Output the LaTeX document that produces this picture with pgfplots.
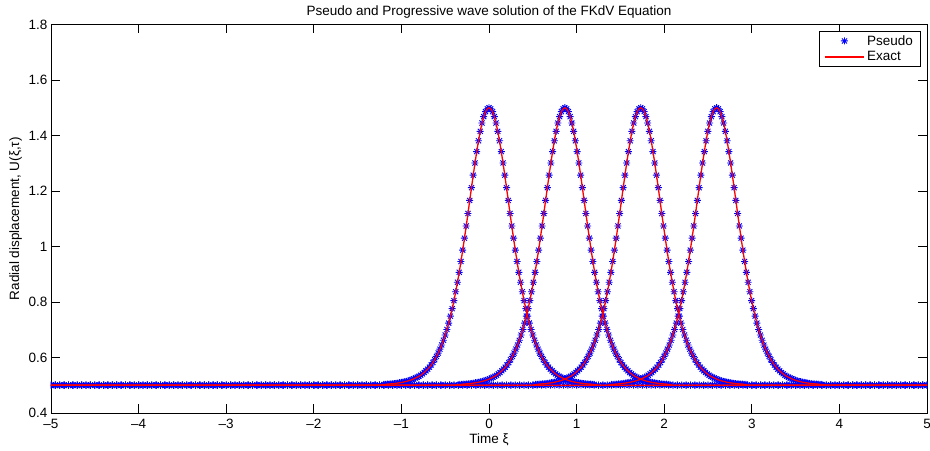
\documentclass[border=0pt]{standalone}
\usepackage{fontspec}
\setmainfont{Liberation Sans}
\usepackage{pgfplots}
\usepackage{pgfplotstable}
\pgfplotsset{compat=1.18}
\pgfdeclareplotmark{mstar}{%
  \pgfpathmoveto{\pgfqpoint{-\pgfplotmarksize}{0pt}}\pgfpathlineto{\pgfqpoint{\pgfplotmarksize}{0pt}}%
  \pgfpathmoveto{\pgfqpoint{0pt}{-\pgfplotmarksize}}\pgfpathlineto{\pgfqpoint{0pt}{\pgfplotmarksize}}%
  \pgfpathmoveto{\pgfqpoint{-0.72\pgfplotmarksize}{-0.72\pgfplotmarksize}}\pgfpathlineto{\pgfqpoint{0.72\pgfplotmarksize}{0.72\pgfplotmarksize}}%
  \pgfpathmoveto{\pgfqpoint{-0.72\pgfplotmarksize}{0.72\pgfplotmarksize}}\pgfpathlineto{\pgfqpoint{0.72\pgfplotmarksize}{-0.72\pgfplotmarksize}}%
  \pgfusepathqstroke}
% pulse centred at 0
\pgfplotstableread[row sep=\\]{
x y\\
-5 0.5\\-4.95 0.5\\-4.9 0.5\\-4.85 0.5\\-4.8 0.5\\-4.75 0.5\\-4.7 0.5\\-4.65 0.5\\-4.6 0.5\\-4.55 0.5\\
-4.5 0.5\\-4.45 0.5\\-4.4 0.5\\-4.35 0.5\\-4.3 0.5\\-4.25 0.5\\-4.2 0.5\\-4.15 0.5\\-4.1 0.5\\-4.05 0.5\\
-4 0.5\\-3.95 0.5\\-3.9 0.5\\-3.85 0.5\\-3.8 0.5\\-3.75 0.5\\-3.7 0.5\\-3.65 0.5\\-3.6 0.5\\-3.55 0.5\\
-3.5 0.5\\-3.45 0.5\\-3.4 0.5\\-3.35 0.5\\-3.3 0.5\\-3.25 0.5\\-3.2 0.5\\-3.15 0.5\\-3.1 0.5\\-3.05 0.5\\
-3 0.5\\-2.95 0.5\\-2.9 0.5\\-2.85 0.5\\-2.8 0.5\\-2.75 0.5\\-2.7 0.5\\-2.65 0.5\\-2.6 0.5\\-2.55 0.5\\
-2.5 0.5\\-2.45 0.5\\-2.4 0.5\\-2.35 0.5\\-2.3 0.5\\-2.25 0.5\\-2.2 0.5\\-2.15 0.5\\-2.1 0.5\\-2.05 0.5\\
-2 0.5\\-1.95 0.5\\-1.9 0.5\\-1.85 0.5\\-1.8 0.5\\-1.75 0.5\\-1.7 0.5\\-1.65 0.5\\-1.6 0.5\\-1.55 0.5\\
-1.5 0.5\\-1.45 0.5\\-1.4 0.5\\-1.35 0.5\\-1.3 0.5\\-1.25 0.5\\
-1.2 0.503\\-1.18 0.503\\-1.16 0.504\\-1.14 0.504\\-1.12 0.505\\-1.1 0.505\\-1.08 0.506\\-1.06 0.507\\-1.04 0.508\\-1.02 0.509\\
-1 0.510\\-0.98 0.511\\-0.96 0.513\\-0.94 0.514\\-0.92 0.516\\-0.9 0.518\\-0.88 0.520\\-0.86 0.523\\-0.84 0.526\\-0.82 0.529\\
-0.8 0.532\\-0.78 0.536\\-0.76 0.541\\-0.74 0.546\\-0.72 0.552\\-0.7 0.558\\-0.68 0.565\\-0.66 0.573\\-0.64 0.582\\-0.62 0.592\\
-0.6 0.604\\-0.58 0.616\\-0.56 0.630\\-0.54 0.645\\-0.52 0.662\\-0.5 0.681\\-0.48 0.701\\-0.46 0.724\\-0.44 0.749\\-0.42 0.776\\
-0.4 0.805\\-0.38 0.837\\-0.36 0.871\\-0.34 0.907\\-0.32 0.946\\-0.3 0.987\\-0.28 1.030\\-0.26 1.074\\-0.24 1.119\\-0.22 1.166\\
-0.2 1.212\\-0.18 1.257\\-0.16 1.301\\-0.14 1.342\\-0.12 1.381\\-0.1 1.415\\-0.08 1.445\\-0.06 1.468\\-0.04 1.486\\-0.02 1.496\\
0 1.500\\
0.02 1.496\\0.04 1.486\\0.06 1.468\\0.08 1.445\\0.1 1.415\\0.12 1.381\\0.14 1.342\\0.16 1.301\\0.18 1.257\\0.2 1.212\\
0.22 1.166\\0.24 1.119\\0.26 1.074\\0.28 1.030\\0.3 0.987\\0.32 0.946\\0.34 0.907\\0.36 0.871\\0.38 0.837\\0.4 0.805\\
0.42 0.776\\0.44 0.749\\0.46 0.724\\0.48 0.701\\0.5 0.681\\0.52 0.662\\0.54 0.645\\0.56 0.630\\0.58 0.616\\0.6 0.604\\
0.62 0.592\\0.64 0.582\\0.66 0.573\\0.68 0.565\\0.7 0.558\\0.72 0.552\\0.74 0.546\\0.76 0.541\\0.78 0.536\\0.8 0.532\\
0.82 0.529\\0.84 0.526\\0.86 0.523\\0.88 0.520\\0.9 0.518\\0.92 0.516\\0.94 0.514\\0.96 0.513\\0.98 0.511\\1 0.510\\
1.02 0.509\\1.04 0.508\\1.06 0.507\\1.08 0.506\\1.1 0.505\\1.12 0.505\\1.14 0.504\\1.16 0.504\\1.18 0.503\\1.2 0.503\\
1.25 0.5\\1.3 0.5\\1.35 0.5\\1.4 0.5\\1.45 0.5\\
1.5 0.5\\1.55 0.5\\1.6 0.5\\1.65 0.5\\1.7 0.5\\1.75 0.5\\1.8 0.5\\1.85 0.5\\1.9 0.5\\1.95 0.5\\
2 0.5\\2.05 0.5\\2.1 0.5\\2.15 0.5\\2.2 0.5\\2.25 0.5\\2.3 0.5\\2.35 0.5\\2.4 0.5\\2.45 0.5\\
2.5 0.5\\2.55 0.5\\2.6 0.5\\2.65 0.5\\2.7 0.5\\2.75 0.5\\2.8 0.5\\2.85 0.5\\2.9 0.5\\2.95 0.5\\
3 0.5\\3.05 0.5\\3.1 0.5\\3.15 0.5\\3.2 0.5\\3.25 0.5\\3.3 0.5\\3.35 0.5\\3.4 0.5\\3.45 0.5\\
3.5 0.5\\3.55 0.5\\3.6 0.5\\3.65 0.5\\3.7 0.5\\3.75 0.5\\3.8 0.5\\3.85 0.5\\3.9 0.5\\3.95 0.5\\
4 0.5\\4.05 0.5\\4.1 0.5\\4.15 0.5\\4.2 0.5\\4.25 0.5\\4.3 0.5\\4.35 0.5\\4.4 0.5\\4.45 0.5\\
4.5 0.5\\4.55 0.5\\4.6 0.5\\4.65 0.5\\4.7 0.5\\4.75 0.5\\4.8 0.5\\4.85 0.5\\4.9 0.5\\4.95 0.5\\5 0.5\\
}\waveA
% pulse centred at 0.866
\pgfplotstableread[row sep=\\]{
x y\\
-5 0.5\\-4.95 0.5\\-4.9 0.5\\-4.85 0.5\\-4.8 0.5\\-4.75 0.5\\-4.7 0.5\\-4.65 0.5\\-4.6 0.5\\-4.55 0.5\\
-4.5 0.5\\-4.45 0.5\\-4.4 0.5\\-4.35 0.5\\-4.3 0.5\\-4.25 0.5\\-4.2 0.5\\-4.15 0.5\\-4.1 0.5\\-4.05 0.5\\
-4 0.5\\-3.95 0.5\\-3.9 0.5\\-3.85 0.5\\-3.8 0.5\\-3.75 0.5\\-3.7 0.5\\-3.65 0.5\\-3.6 0.5\\-3.55 0.5\\
-3.5 0.5\\-3.45 0.5\\-3.4 0.5\\-3.35 0.5\\-3.3 0.5\\-3.25 0.5\\-3.2 0.5\\-3.15 0.5\\-3.1 0.5\\-3.05 0.5\\
-3 0.5\\-2.95 0.5\\-2.9 0.5\\-2.85 0.5\\-2.8 0.5\\-2.75 0.5\\-2.7 0.5\\-2.65 0.5\\-2.6 0.5\\-2.55 0.5\\
-2.5 0.5\\-2.45 0.5\\-2.4 0.5\\-2.35 0.5\\-2.3 0.5\\-2.25 0.5\\-2.2 0.5\\-2.15 0.5\\-2.1 0.5\\-2.05 0.5\\
-2 0.5\\-1.95 0.5\\-1.9 0.5\\-1.85 0.5\\-1.8 0.5\\-1.75 0.5\\-1.7 0.5\\-1.65 0.5\\-1.6 0.5\\-1.55 0.5\\
-1.5 0.5\\-1.45 0.5\\-1.4 0.5\\-1.35 0.5\\-1.3 0.5\\-1.25 0.5\\-1.2 0.5\\-1.15 0.5\\-1.1 0.5\\-1.05 0.5\\
-1 0.5\\-0.95 0.5\\-0.9 0.5\\-0.85 0.5\\-0.8 0.5\\-0.75 0.5\\-0.7 0.5\\-0.65 0.5\\-0.6 0.5\\-0.55 0.5\\
-0.5 0.5\\-0.45 0.5\\-0.4 0.5\\
-0.334 0.503\\-0.314 0.503\\-0.294 0.504\\-0.274 0.504\\-0.254 0.505\\-0.234 0.505\\-0.214 0.506\\-0.194 0.507\\-0.174 0.508\\-0.154 0.509\\
-0.134 0.510\\-0.114 0.511\\-0.094 0.513\\-0.074 0.514\\-0.054 0.516\\-0.034 0.518\\-0.014 0.520\\0.006 0.523\\0.026 0.526\\0.046 0.529\\
0.066 0.532\\0.086 0.536\\0.106 0.541\\0.126 0.546\\0.146 0.552\\0.166 0.558\\0.186 0.565\\0.206 0.573\\0.226 0.582\\0.246 0.592\\
0.266 0.604\\0.286 0.616\\0.306 0.630\\0.326 0.645\\0.346 0.662\\0.366 0.681\\0.386 0.701\\0.406 0.724\\0.426 0.749\\0.446 0.776\\
0.466 0.805\\0.486 0.837\\0.506 0.871\\0.526 0.907\\0.546 0.946\\0.566 0.987\\0.586 1.030\\0.606 1.074\\0.626 1.119\\0.646 1.166\\
0.666 1.212\\0.686 1.257\\0.706 1.301\\0.726 1.342\\0.746 1.381\\0.766 1.415\\0.786 1.445\\0.806 1.468\\0.826 1.486\\0.846 1.496\\
0.866 1.500\\
0.886 1.496\\0.906 1.486\\0.926 1.468\\0.946 1.445\\0.966 1.415\\0.986 1.381\\1.006 1.342\\1.026 1.301\\1.046 1.257\\1.066 1.212\\
1.086 1.166\\1.106 1.119\\1.126 1.074\\1.146 1.030\\1.166 0.987\\1.186 0.946\\1.206 0.907\\1.226 0.871\\1.246 0.837\\1.266 0.805\\
1.286 0.776\\1.306 0.749\\1.326 0.724\\1.346 0.701\\1.366 0.681\\1.386 0.662\\1.406 0.645\\1.426 0.630\\1.446 0.616\\1.466 0.604\\
1.486 0.592\\1.506 0.582\\1.526 0.573\\1.546 0.565\\1.566 0.558\\1.586 0.552\\1.606 0.546\\1.626 0.541\\1.646 0.536\\1.666 0.532\\
1.686 0.529\\1.706 0.526\\1.726 0.523\\1.746 0.520\\1.766 0.518\\1.786 0.516\\1.806 0.514\\1.826 0.513\\1.846 0.511\\1.866 0.510\\
1.886 0.509\\1.906 0.508\\1.926 0.507\\1.946 0.506\\1.966 0.505\\1.986 0.505\\2.006 0.504\\2.026 0.504\\2.046 0.503\\2.066 0.503\\
2.1 0.5\\2.15 0.5\\2.2 0.5\\2.25 0.5\\2.3 0.5\\2.35 0.5\\2.4 0.5\\2.45 0.5\\
2.5 0.5\\2.55 0.5\\2.6 0.5\\2.65 0.5\\2.7 0.5\\2.75 0.5\\2.8 0.5\\2.85 0.5\\2.9 0.5\\2.95 0.5\\
3 0.5\\3.05 0.5\\3.1 0.5\\3.15 0.5\\3.2 0.5\\3.25 0.5\\3.3 0.5\\3.35 0.5\\3.4 0.5\\3.45 0.5\\
3.5 0.5\\3.55 0.5\\3.6 0.5\\3.65 0.5\\3.7 0.5\\3.75 0.5\\3.8 0.5\\3.85 0.5\\3.9 0.5\\3.95 0.5\\
4 0.5\\4.05 0.5\\4.1 0.5\\4.15 0.5\\4.2 0.5\\4.25 0.5\\4.3 0.5\\4.35 0.5\\4.4 0.5\\4.45 0.5\\
4.5 0.5\\4.55 0.5\\4.6 0.5\\4.65 0.5\\4.7 0.5\\4.75 0.5\\4.8 0.5\\4.85 0.5\\4.9 0.5\\4.95 0.5\\5 0.5\\
}\waveB
% pulse centred at 1.732
\pgfplotstableread[row sep=\\]{
x y\\
-5 0.5\\-4.95 0.5\\-4.9 0.5\\-4.85 0.5\\-4.8 0.5\\-4.75 0.5\\-4.7 0.5\\-4.65 0.5\\-4.6 0.5\\-4.55 0.5\\
-4.5 0.5\\-4.45 0.5\\-4.4 0.5\\-4.35 0.5\\-4.3 0.5\\-4.25 0.5\\-4.2 0.5\\-4.15 0.5\\-4.1 0.5\\-4.05 0.5\\
-4 0.5\\-3.95 0.5\\-3.9 0.5\\-3.85 0.5\\-3.8 0.5\\-3.75 0.5\\-3.7 0.5\\-3.65 0.5\\-3.6 0.5\\-3.55 0.5\\
-3.5 0.5\\-3.45 0.5\\-3.4 0.5\\-3.35 0.5\\-3.3 0.5\\-3.25 0.5\\-3.2 0.5\\-3.15 0.5\\-3.1 0.5\\-3.05 0.5\\
-3 0.5\\-2.95 0.5\\-2.9 0.5\\-2.85 0.5\\-2.8 0.5\\-2.75 0.5\\-2.7 0.5\\-2.65 0.5\\-2.6 0.5\\-2.55 0.5\\
-2.5 0.5\\-2.45 0.5\\-2.4 0.5\\-2.35 0.5\\-2.3 0.5\\-2.25 0.5\\-2.2 0.5\\-2.15 0.5\\-2.1 0.5\\-2.05 0.5\\
-2 0.5\\-1.95 0.5\\-1.9 0.5\\-1.85 0.5\\-1.8 0.5\\-1.75 0.5\\-1.7 0.5\\-1.65 0.5\\-1.6 0.5\\-1.55 0.5\\
-1.5 0.5\\-1.45 0.5\\-1.4 0.5\\-1.35 0.5\\-1.3 0.5\\-1.25 0.5\\-1.2 0.5\\-1.15 0.5\\-1.1 0.5\\-1.05 0.5\\
-1 0.5\\-0.95 0.5\\-0.9 0.5\\-0.85 0.5\\-0.8 0.5\\-0.75 0.5\\-0.7 0.5\\-0.65 0.5\\-0.6 0.5\\-0.55 0.5\\
-0.5 0.5\\-0.45 0.5\\-0.4 0.5\\-0.35 0.5\\-0.3 0.5\\-0.25 0.5\\-0.2 0.5\\-0.15 0.5\\-0.1 0.5\\-0.05 0.5\\
0 0.5\\0.05 0.5\\0.1 0.5\\0.15 0.5\\0.2 0.5\\0.25 0.5\\0.3 0.5\\0.35 0.5\\0.4 0.5\\0.45 0.5\\0.5 0.5\\
0.532 0.503\\0.552 0.503\\0.572 0.504\\0.592 0.504\\0.612 0.505\\0.632 0.505\\0.652 0.506\\0.672 0.507\\0.692 0.508\\0.712 0.509\\
0.732 0.510\\0.752 0.511\\0.772 0.513\\0.792 0.514\\0.812 0.516\\0.832 0.518\\0.852 0.520\\0.872 0.523\\0.892 0.526\\0.912 0.529\\
0.932 0.532\\0.952 0.536\\0.972 0.541\\0.992 0.546\\1.012 0.552\\1.032 0.558\\1.052 0.565\\1.072 0.573\\1.092 0.582\\1.112 0.592\\
1.132 0.604\\1.152 0.616\\1.172 0.630\\1.192 0.645\\1.212 0.662\\1.232 0.681\\1.252 0.701\\1.272 0.724\\1.292 0.749\\1.312 0.776\\
1.332 0.805\\1.352 0.837\\1.372 0.871\\1.392 0.907\\1.412 0.946\\1.432 0.987\\1.452 1.030\\1.472 1.074\\1.492 1.119\\1.512 1.166\\
1.532 1.212\\1.552 1.257\\1.572 1.301\\1.592 1.342\\1.612 1.381\\1.632 1.415\\1.652 1.445\\1.672 1.468\\1.692 1.486\\1.712 1.496\\
1.732 1.500\\
1.752 1.496\\1.772 1.486\\1.792 1.468\\1.812 1.445\\1.832 1.415\\1.852 1.381\\1.872 1.342\\1.892 1.301\\1.912 1.257\\1.932 1.212\\
1.952 1.166\\1.972 1.119\\1.992 1.074\\2.012 1.030\\2.032 0.987\\2.052 0.946\\2.072 0.907\\2.092 0.871\\2.112 0.837\\2.132 0.805\\
2.152 0.776\\2.172 0.749\\2.192 0.724\\2.212 0.701\\2.232 0.681\\2.252 0.662\\2.272 0.645\\2.292 0.630\\2.312 0.616\\2.332 0.604\\
2.352 0.592\\2.372 0.582\\2.392 0.573\\2.412 0.565\\2.432 0.558\\2.452 0.552\\2.472 0.546\\2.492 0.541\\2.512 0.536\\2.532 0.532\\
2.552 0.529\\2.572 0.526\\2.592 0.523\\2.612 0.520\\2.632 0.518\\2.652 0.516\\2.672 0.514\\2.692 0.513\\2.712 0.511\\2.732 0.510\\
2.752 0.509\\2.772 0.508\\2.792 0.507\\2.812 0.506\\2.832 0.505\\2.852 0.505\\2.872 0.504\\2.892 0.504\\2.912 0.503\\2.932 0.503\\
2.95 0.5\\
3 0.5\\3.05 0.5\\3.1 0.5\\3.15 0.5\\3.2 0.5\\3.25 0.5\\3.3 0.5\\3.35 0.5\\3.4 0.5\\3.45 0.5\\
3.5 0.5\\3.55 0.5\\3.6 0.5\\3.65 0.5\\3.7 0.5\\3.75 0.5\\3.8 0.5\\3.85 0.5\\3.9 0.5\\3.95 0.5\\
4 0.5\\4.05 0.5\\4.1 0.5\\4.15 0.5\\4.2 0.5\\4.25 0.5\\4.3 0.5\\4.35 0.5\\4.4 0.5\\4.45 0.5\\
4.5 0.5\\4.55 0.5\\4.6 0.5\\4.65 0.5\\4.7 0.5\\4.75 0.5\\4.8 0.5\\4.85 0.5\\4.9 0.5\\4.95 0.5\\5 0.5\\
}\waveC
% pulse centred at 2.598
\pgfplotstableread[row sep=\\]{
x y\\
-5 0.5\\-4.95 0.5\\-4.9 0.5\\-4.85 0.5\\-4.8 0.5\\-4.75 0.5\\-4.7 0.5\\-4.65 0.5\\-4.6 0.5\\-4.55 0.5\\
-4.5 0.5\\-4.45 0.5\\-4.4 0.5\\-4.35 0.5\\-4.3 0.5\\-4.25 0.5\\-4.2 0.5\\-4.15 0.5\\-4.1 0.5\\-4.05 0.5\\
-4 0.5\\-3.95 0.5\\-3.9 0.5\\-3.85 0.5\\-3.8 0.5\\-3.75 0.5\\-3.7 0.5\\-3.65 0.5\\-3.6 0.5\\-3.55 0.5\\
-3.5 0.5\\-3.45 0.5\\-3.4 0.5\\-3.35 0.5\\-3.3 0.5\\-3.25 0.5\\-3.2 0.5\\-3.15 0.5\\-3.1 0.5\\-3.05 0.5\\
-3 0.5\\-2.95 0.5\\-2.9 0.5\\-2.85 0.5\\-2.8 0.5\\-2.75 0.5\\-2.7 0.5\\-2.65 0.5\\-2.6 0.5\\-2.55 0.5\\
-2.5 0.5\\-2.45 0.5\\-2.4 0.5\\-2.35 0.5\\-2.3 0.5\\-2.25 0.5\\-2.2 0.5\\-2.15 0.5\\-2.1 0.5\\-2.05 0.5\\
-2 0.5\\-1.95 0.5\\-1.9 0.5\\-1.85 0.5\\-1.8 0.5\\-1.75 0.5\\-1.7 0.5\\-1.65 0.5\\-1.6 0.5\\-1.55 0.5\\
-1.5 0.5\\-1.45 0.5\\-1.4 0.5\\-1.35 0.5\\-1.3 0.5\\-1.25 0.5\\-1.2 0.5\\-1.15 0.5\\-1.1 0.5\\-1.05 0.5\\
-1 0.5\\-0.95 0.5\\-0.9 0.5\\-0.85 0.5\\-0.8 0.5\\-0.75 0.5\\-0.7 0.5\\-0.65 0.5\\-0.6 0.5\\-0.55 0.5\\
-0.5 0.5\\-0.45 0.5\\-0.4 0.5\\-0.35 0.5\\-0.3 0.5\\-0.25 0.5\\-0.2 0.5\\-0.15 0.5\\-0.1 0.5\\-0.05 0.5\\
0 0.5\\0.05 0.5\\0.1 0.5\\0.15 0.5\\0.2 0.5\\0.25 0.5\\0.3 0.5\\0.35 0.5\\0.4 0.5\\0.45 0.5\\
0.5 0.5\\0.55 0.5\\0.6 0.5\\0.65 0.5\\0.7 0.5\\0.75 0.5\\0.8 0.5\\0.85 0.5\\0.9 0.5\\0.95 0.5\\
1 0.5\\1.05 0.5\\1.1 0.5\\1.15 0.5\\1.2 0.5\\1.25 0.5\\1.3 0.5\\1.35 0.5\\
1.398 0.503\\1.418 0.503\\1.438 0.504\\1.458 0.504\\1.478 0.505\\1.498 0.505\\1.518 0.506\\1.538 0.507\\1.558 0.508\\1.578 0.509\\
1.598 0.510\\1.618 0.511\\1.638 0.513\\1.658 0.514\\1.678 0.516\\1.698 0.518\\1.718 0.520\\1.738 0.523\\1.758 0.526\\1.778 0.529\\
1.798 0.532\\1.818 0.536\\1.838 0.541\\1.858 0.546\\1.878 0.552\\1.898 0.558\\1.918 0.565\\1.938 0.573\\1.958 0.582\\1.978 0.592\\
1.998 0.604\\2.018 0.616\\2.038 0.630\\2.058 0.645\\2.078 0.662\\2.098 0.681\\2.118 0.701\\2.138 0.724\\2.158 0.749\\2.178 0.776\\
2.198 0.805\\2.218 0.837\\2.238 0.871\\2.258 0.907\\2.278 0.946\\2.298 0.987\\2.318 1.030\\2.338 1.074\\2.358 1.119\\2.378 1.166\\
2.398 1.212\\2.418 1.257\\2.438 1.301\\2.458 1.342\\2.478 1.381\\2.498 1.415\\2.518 1.445\\2.538 1.468\\2.558 1.486\\2.578 1.496\\
2.598 1.500\\
2.618 1.496\\2.638 1.486\\2.658 1.468\\2.678 1.445\\2.698 1.415\\2.718 1.381\\2.738 1.342\\2.758 1.301\\2.778 1.257\\2.798 1.212\\
2.818 1.166\\2.838 1.119\\2.858 1.074\\2.878 1.030\\2.898 0.987\\2.918 0.946\\2.938 0.907\\2.958 0.871\\2.978 0.837\\2.998 0.805\\
3.018 0.776\\3.038 0.749\\3.058 0.724\\3.078 0.701\\3.098 0.681\\3.118 0.662\\3.138 0.645\\3.158 0.630\\3.178 0.616\\3.198 0.604\\
3.218 0.592\\3.238 0.582\\3.258 0.573\\3.278 0.565\\3.298 0.558\\3.318 0.552\\3.338 0.546\\3.358 0.541\\3.378 0.536\\3.398 0.532\\
3.418 0.529\\3.438 0.526\\3.458 0.523\\3.478 0.520\\3.498 0.518\\3.518 0.516\\3.538 0.514\\3.558 0.513\\3.578 0.511\\3.598 0.510\\
3.618 0.509\\3.638 0.508\\3.658 0.507\\3.678 0.506\\3.698 0.505\\3.718 0.505\\3.738 0.504\\3.758 0.504\\3.778 0.503\\3.798 0.503\\
3.85 0.5\\3.9 0.5\\3.95 0.5\\
4 0.5\\4.05 0.5\\4.1 0.5\\4.15 0.5\\4.2 0.5\\4.25 0.5\\4.3 0.5\\4.35 0.5\\4.4 0.5\\4.45 0.5\\
4.5 0.5\\4.55 0.5\\4.6 0.5\\4.65 0.5\\4.7 0.5\\4.75 0.5\\4.8 0.5\\4.85 0.5\\4.9 0.5\\4.95 0.5\\5 0.5\\
}\waveD
\begin{document}
\begin{tikzpicture}[font=\fontsize{13.5}{16}\selectfont]
\begin{axis}[
  scale only axis, width=876pt, height=388.5pt,
  xmin=-5, xmax=5, ymin=0.4, ymax=1.8,
  clip marker paths=true,
  xtick={-5,-4,-3,-2,-1,0,1,2,3,4,5},
  xticklabels={--5,--4,--3,--2,--1,0,1,2,3,4,5},
  ytick={0.4,0.6,0.8,1,1.2,1.4,1.6,1.8},
  yticklabels={0.4,0.6,0.8,1,1.2,1.4,1.6,1.8},
  xticklabel style={yshift=-3pt},
  xtick pos=both, ytick pos=both, tick align=inside,
  major tick length=9pt,
  axis line style={line width=0.8pt, black},
  every tick/.style={black, line width=0.8pt},
  title={Pseudo and Progressive wave solution of the FKdV Equation},
  title style={yshift=-3pt},
  xlabel={Time ξ},
  xlabel style={yshift=2pt},
  ylabel={Radial displacement, U(ξ,τ)},
  legend style={at={(rel axis cs:0.992,0.983)}, anchor=north east, draw=black, fill=white, inner xsep=5pt, inner ysep=2pt, row sep=1pt},
  legend cell align=left,
  legend image code/.code={\draw[mark repeat=2,mark phase=2,#1] plot coordinates {(0cm,0cm) (0.7cm,0cm) (1.4cm,0cm)};},
]
\addplot[only marks, mark=mstar, mark size=3.5pt, draw=blue, mark options={line width=0.9pt, draw=blue}] table[x=x,y=y] {\waveA};
\addlegendentry{Pseudo}
\addplot[only marks, mark=mstar, mark size=3.5pt, draw=blue, mark options={line width=0.9pt, draw=blue}, forget plot] table[x=x,y=y] {\waveB};
\addplot[only marks, mark=mstar, mark size=3.5pt, draw=blue, mark options={line width=0.9pt, draw=blue}, forget plot] table[x=x,y=y] {\waveC};
\addplot[only marks, mark=mstar, mark size=3.5pt, draw=blue, mark options={line width=0.9pt, draw=blue}, forget plot] table[x=x,y=y] {\waveD};
\addlegendimage{draw=red, line width=1.3pt}
\addlegendentry{Exact}
\addplot[draw=red, line width=1.3pt, no marks, forget plot] table[x=x,y=y] {\waveA};
\addplot[draw=red, line width=1.3pt, no marks, forget plot] table[x=x,y=y] {\waveB};
\addplot[draw=red, line width=1.3pt, no marks, forget plot] table[x=x,y=y] {\waveC};
\addplot[draw=red, line width=1.3pt, no marks, forget plot] table[x=x,y=y] {\waveD};
\end{axis}
\pgfresetboundingbox
\path[use as bounding box] ([shift={(-51pt,-38pt)}]current axis.south west) rectangle ([shift={(3pt,24.5pt)}]current axis.north east);
\end{tikzpicture}
\end{document}
